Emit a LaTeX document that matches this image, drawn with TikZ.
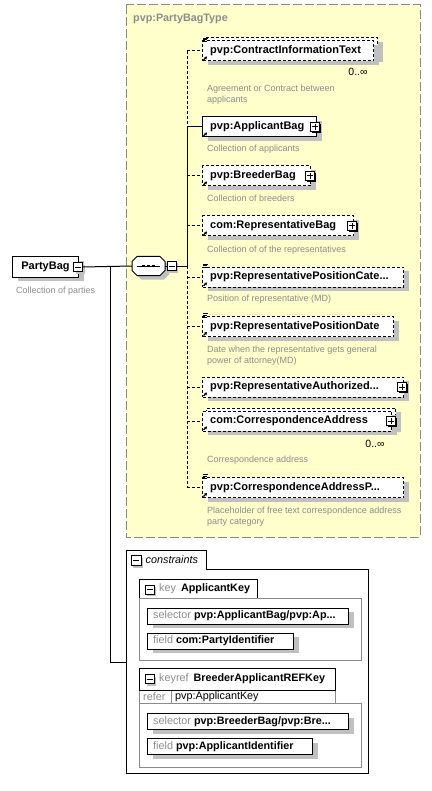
\documentclass[tikz,border=0pt]{standalone}
\usepackage{fontspec}
\setmainfont{Liberation Sans}
\usetikzlibrary{shadows,arrows.meta}
\definecolor{ylw}{HTML}{FFFFCC}
\definecolor{shd}{HTML}{C0C0C0}
\definecolor{txtgray}{HTML}{8C8C8C}
\definecolor{bordergray}{HTML}{8A8A8A}
\newcommand\xsRef[1]{\draw[line width=1.1pt,-{Stealth[length=2.6pt,width=3.2pt]}] ([xshift=1.5pt,yshift=1.5pt]#1.south west) -- ++(3.5pt,3.5pt);}
\newcommand\xsSimple[1]{\draw[line width=0.7pt] ([xshift=1pt,yshift=2.5pt]#1.north west) -- ++(5pt,0pt) ([xshift=1pt,yshift=0.7pt]#1.north west) -- ++(4pt,0pt) ([xshift=1pt,yshift=-1.1pt]#1.north west) -- ++(4pt,0pt);}
\begin{document}
\begin{tikzpicture}[x=1pt,y=-1pt,
  conn/.style={line width=1pt},
  dconn/.style={line width=1pt, dash pattern=on 3pt off 2pt},
  ebox/.style={draw, fill=white, line width=1pt, minimum height=20pt, inner sep=0pt, anchor=west,
    drop shadow={shadow xshift=5pt, shadow yshift=-4pt, fill=shd, opacity=1}},
  optbox/.style={ebox, dash pattern=on 3pt off 2pt},
  ename/.style={anchor=west, inner sep=0pt, font=\bfseries\fontsize{11}{13}\selectfont},
  lbl/.style={anchor=west, inner sep=0pt, font=\fontsize{10.8}{13}\selectfont},
  desc/.style={anchor=north west, inner sep=0pt, align=left, text=txtgray, font=\fontsize{9}{11.6}\selectfont},
  mult/.style={inner sep=0pt, font=\fontsize{10.5}{12}\selectfont},
  sbox/.style={draw, fill=white, line width=1pt, minimum height=16pt, inner sep=0pt, anchor=west,
    drop shadow={shadow xshift=5pt, shadow yshift=-4pt, fill=shd, opacity=1}},
  pbox/.style={draw, fill=white, line width=1pt, minimum size=9pt, inner sep=0pt,
    drop shadow={shadow xshift=1.3pt, shadow yshift=-1.3pt, fill=black, opacity=1},
    path picture={\draw[line width=1pt] ([xshift=-3pt]path picture bounding box.center) -- ([xshift=3pt]path picture bounding box.center);
      \draw[line width=1pt] ([yshift=-3pt]path picture bounding box.center) -- ([yshift=3pt]path picture bounding box.center);}},
  mbox/.style={draw, fill=white, line width=1pt, minimum size=9pt, inner sep=0pt,
    drop shadow={shadow xshift=2pt, shadow yshift=-2pt, fill=shd, opacity=1},
    path picture={\draw[line width=1pt] ([xshift=-3pt]path picture bounding box.center) -- ([xshift=3pt]path picture bounding box.center);}}
]
\useasboundingbox (0,0) rectangle (431,791);

% complex type area
\draw[line width=1pt, draw=bordergray, dash pattern=on 9pt off 3pt, fill=ylw] (126,5) rectangle (420,537);
\node[anchor=west, inner sep=0pt, text=txtgray, font=\bfseries\fontsize{10.8}{13}\selectfont] (title) at (133,19) {pvp:PartyBagType};

% PartyBag
\node[ebox, minimum width=66pt, font=\bfseries\fontsize{11}{13}\selectfont] (pb) at (12,267) {PartyBag};
\node[mbox] (pbm) at (78,267) {};
\node[desc] (pbd) at (16,286.4) {Collection of parties};

% sequence compositor
\fill[shd, shift={(4pt,-4pt)}] (137,256.5) -- (160,256.5) -- (165,261.5) -- (165,270.5) -- (160,275.5) -- (137,275.5) -- (132,270.5) -- (132,261.5) -- cycle;
\filldraw[fill=white, line width=1pt] (137,256.5) -- (160,256.5) -- (165,261.5) -- (165,270.5) -- (160,275.5) -- (137,275.5) -- (132,270.5) -- (132,261.5) -- cycle;
\node[inner sep=0pt, minimum width=33pt, minimum height=19pt] (seq) at (148.5,266) {};
\draw[line width=1pt] (137,266) -- (160,266);
\fill (142.3,264.6) rectangle (145,267.4);
\fill (147.2,264.6) rectangle (149.9,267.4);
\fill (152.1,264.6) rectangle (154.8,267.4);
\node[mbox] (seqm) at (171.5,266) {};

% elements
\node[optbox, minimum width=171pt] (citb) at (206,48) {};
\node[optbox, minimum width=171pt] (cit) at (202,51) {};
\node[ename] (citl) at (210,51) {pvp:ContractInformationText};
\node[mult] (citm) at (358,72) {0..∞};
\node[desc] (citd) at (207,84.4) {Agreement or Contract between\\applicants};

\node[ebox, minimum width=114pt] (ab) at (202,127) {};
\node[ename] (abl) at (210,127) {pvp:ApplicantBag};
\node[pbox] (abp) at (315,127) {};
\node[desc] (abd) at (207,144.4) {Collection of applicants};

\node[optbox, minimum width=108pt] (bb) at (202,176) {};
\node[ename] (bbl) at (210,176) {pvp:BreederBag};
\node[pbox] (bbp) at (310,176) {};
\node[desc] (bbd) at (207,194.4) {Collection of breeders};

\node[optbox, minimum width=151pt] (rb) at (202,226) {};
\node[ename] (rbl) at (210,226) {com:RepresentativeBag};
\node[pbox] (rbp) at (352,226) {};
\node[desc] (rbd) at (207,245.4) {Collection of of the representatives};

\node[optbox, minimum width=201pt] (rpc) at (202,277) {};
\node[ename] (rpcl) at (210,277) {pvp:RepresentativePositionCate...};
\node[desc] (rpcd) at (207,294.4) {Position of representative (MD)};

\node[optbox, minimum width=191pt] (rpd) at (202,326.5) {};
\node[ename] (rpdl) at (210,326.5) {pvp:RepresentativePositionDate};
\node[desc] (rpdd) at (207,345.4) {Date when the representative gets general\\power of attorney(MD)};

\node[optbox, minimum width=201pt] (ra) at (202,387) {};
\node[ename] (ral) at (210,387) {pvp:RepresentativeAuthorized...};
\node[pbox] (rap) at (402,387) {};

\node[optbox, minimum width=189pt] (cab) at (206,418) {};
\node[optbox, minimum width=189pt] (ca) at (202,421) {};
\node[ename] (cal) at (210,421) {com:CorrespondenceAddress};
\node[pbox] (cap) at (391,421) {};
\node[mult] (cam) at (375,444) {0..∞};
\node[desc] (cad) at (207,455.4) {Correspondence address};

\node[optbox, minimum width=201pt] (cp) at (202,487.5) {};
\node[ename] (cpl) at (210,487.5) {pvp:CorrespondenceAddressP...};
\node[desc] (cpd) at (207,506.4) {Placeholder of free text correspondence address\\party category};

% icons
\xsSimple{cit} \xsRef{cit}
\xsRef{ab}
\xsRef{bb}
\xsRef{rb}
\xsSimple{rpc} \xsRef{rpc}
\xsSimple{rpd} \xsRef{rpd}
\xsRef{ra}
\xsRef{ca}
\xsSimple{cp} \xsRef{cp}

% connectors
\coordinate (sp) at (187,266);
\coordinate (dn) at (110,267);
\draw[conn] (pbm.east) -- (seq.west);
\draw[conn] (seq.east) -- (seqm.west);
\draw[conn] (seqm.east) -- (sp);
\draw[dconn] (sp |- cit.west) -- (sp |- ab.west);
\draw[conn] (sp |- ab.west) -- (sp);
\draw[dconn] (sp) -- (sp |- cp.west);
\draw[dconn] (sp |- cit.west) -- (cit.west);
\draw[conn] (sp |- ab.west) -- (ab.west);
\draw[dconn] (sp |- bb.west) -- (bb.west);
\draw[dconn] (sp |- rb.west) -- (rb.west);
\draw[dconn] (sp |- rpc.west) -- (rpc.west);
\draw[dconn] (sp |- rpd.west) -- (rpd.west);
\draw[dconn] (sp |- ra.west) -- (ra.west);
\draw[dconn] (sp |- ca.west) -- (ca.west);
\draw[dconn] (sp |- cp.west) -- (cp.west);

% constraints
\draw[conn, fill=white] (126,550) -- (206,550) -- (206,569) -- (368,569) -- (368,773) -- (126,773) -- cycle;
\coordinate (cons) at (126,662);
\draw[conn] (dn) |- (cons);
\node[mbox, minimum size=10pt] (csm) at (136,560.5) {};
\node[lbl, font=\itshape\fontsize{10.8}{13}\selectfont] (cst) at (145.5,560) {constraints};

% key
\draw[line width=1pt, draw=bordergray] (139,598) rectangle (361,660);
\draw[line width=1pt, fill=white] (139,598) -- (139,579) -- (257,579) -- (257,598);
\node[mbox] (km) at (149.5,589.5) {};
\node[lbl] (kt) at (159,589) {\textcolor{txtgray}{key}\hspace{5pt}\textbf{ApplicantKey}};
\node[sbox, minimum width=201pt] (ksel) at (147,616) {};
\node[lbl] (ksell) at (153,616) {\textcolor{txtgray}{selector} \textbf{pvp:ApplicantBag/pvp:Ap...}};
\node[sbox, minimum width=146pt] (kfld) at (147,641) {};
\node[lbl] (kfldl) at (153,641) {\textcolor{txtgray}{field} \textbf{com:PartyIdentifier}};

% keyref
\draw[line width=1pt, draw=bordergray] (139,703) rectangle (361,767);
\draw[line width=1pt, draw=bordergray, fill=white] (139,690) rectangle (335,703);
\draw[line width=1pt, draw=bordergray] (171,690) -- (171,703);
\draw[line width=1pt, fill=white] (139,690) -- (139,668) -- (335,668) -- (335,690) -- cycle;
\node[mbox] (krm) at (149.5,679) {};
\node[lbl] (krt) at (159,678.5) {\textcolor{txtgray}{keyref}\hspace{5pt}\textbf{BreederApplicantREFKey}};
\node[lbl, text=txtgray] (krr) at (143,696.5) {refer};
\node[lbl] (krrv) at (175,696.5) {pvp:ApplicantKey};
\node[sbox, minimum width=201pt] (krsel) at (147,721.5) {};
\node[lbl] (krsell) at (153,721.5) {\textcolor{txtgray}{selector} \textbf{pvp:BreederBag/pvp:Bre...}};
\node[sbox, minimum width=165pt] (krfld) at (147,746.5) {};
\node[lbl] (krfldl) at (153,746.5) {\textcolor{txtgray}{field} \textbf{pvp:ApplicantIdentifier}};
\end{tikzpicture}
\end{document}
